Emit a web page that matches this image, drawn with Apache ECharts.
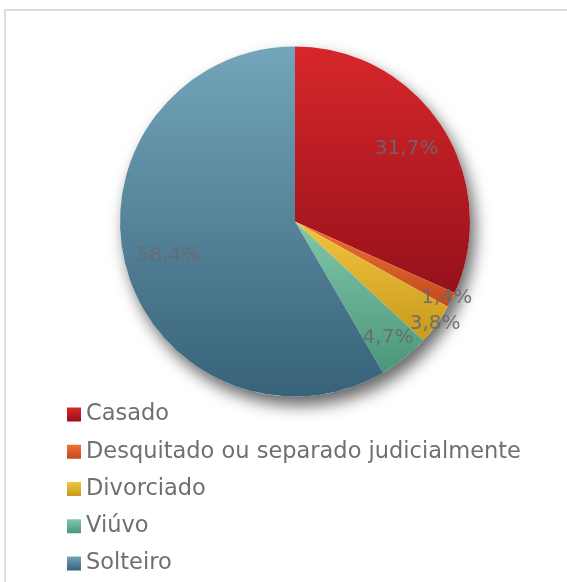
<!DOCTYPE html>
<html>
<head>
<meta charset="utf-8">
<script src="https://cdn.jsdelivr.net/npm/echarts@6/dist/echarts.min.js"></script>
<style>
  html, body { margin: 0; padding: 0; background: #ffffff; }
  #chart { width: 567px; height: 582px; }
</style>
</head>
<body>
<div id="chart"></div>
<script>
// Estado civil — distribuição percentual
const categories = ['Casado', 'Desquitado ou separado judicialmente', 'Divorciado', 'Viúvo', 'Solteiro'];
const shares = [31.7, 1.4, 3.8, 4.7, 58.4];

// vertical gradients per slice: [top, bottom]
const sliceColors = [
  ['#d7272b', '#96111a'],
  ['#ee7236', '#c24a1c'],
  ['#f2c53e', '#c89a1d'],
  ['#82c8aa', '#4b967a'],
  ['#74a5ba', '#37627a']
];

// how far out (as a fraction of the radius) each percentage sits
const labelReach = [0.76, 0.97, 0.99, 0.85, 0.75];

const CX = 295, CY = 221.5, R = 175;

const total = shares.reduce((a, b) => a + b, 0);
const midAngles = [];
let acc = 0;
shares.forEach(v => {
  midAngles.push((acc + v / 2) / total * 2 * Math.PI);
  acc += v;
});

const fmt = v => v.toFixed(1).replace('.', ',') + '%';

const chart = echarts.init(document.getElementById('chart'), null, { renderer: 'canvas' });

chart.setOption({
  animation: false,
  backgroundColor: '#ffffff',
  graphic: [{
    type: 'rect',
    z: -10,
    shape: { x: 5, y: 10, width: 640, height: 640 },
    style: { fill: 'none', stroke: '#dcdcdc', lineWidth: 2 }
  }],
  legend: {
    orient: 'vertical',
    left: 67,
    top: 403,
    padding: 0,
    height: 178,
    data: categories,
    icon: 'rect',
    itemWidth: 14,
    itemHeight: 14,
    itemGap: 14.25,
    textStyle: {
      fontFamily: 'DejaVu Sans, sans-serif',
      fontSize: 22.5,
      lineHeight: 22,
      color: '#6f6f6f'
    }
  },
  series: [
    {
      // soft drop shadow under the disc
      type: 'pie',
      silent: true,
      z: 1,
      center: [CX, CY],
      radius: R,
      label: { show: false },
      labelLine: { show: false },
      data: [{ value: 1, name: '' }],
      itemStyle: {
        color: '#ffffff',
        shadowBlur: 16,
        shadowOffsetX: 5,
        shadowOffsetY: 9,
        shadowColor: 'rgba(0,0,0,0.6)'
      }
    },
    {
      type: 'pie',
      z: 2,
      center: [CX, CY],
      radius: R,
      startAngle: 90,
      clockwise: true,
      avoidLabelOverlap: false,
      labelLine: { show: false },
      label: {
        show: true,
        position: 'inside',
        formatter: p => fmt(p.value),
        fontFamily: 'DejaVu Sans, sans-serif',
        fontSize: 20,
        color: 'rgba(105,105,110,0.9)'
      },
      labelLayout: p => {
        const i = p.dataIndex;
        const a = midAngles[i];
        const d = labelReach[i] * R;
        return {
          x: CX + d * Math.sin(a),
          y: CY - d * Math.cos(a),
          align: 'center',
          verticalAlign: 'middle'
        };
      },
      data: categories.map((name, i) => ({
        name,
        value: shares[i],
        itemStyle: {
          color: new echarts.graphic.LinearGradient(0, 0, 0, 1, [
            { offset: 0, color: sliceColors[i][0] },
            { offset: 1, color: sliceColors[i][1] }
          ])
        }
      })),
      emphasis: { disabled: true }
    }
  ]
});
</script>
</body>
</html>
